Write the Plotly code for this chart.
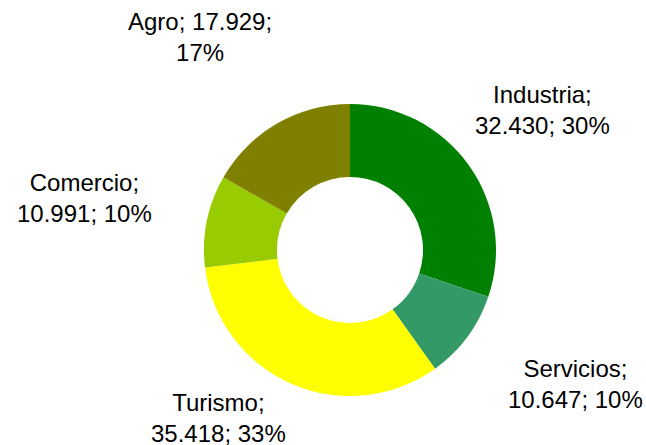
import plotly.graph_objects as go

categories = ["Industria", "Servicios", "Turismo", "Comercio", "Agro"]
values = [32430, 10647, 35418, 10991, 17929]
colors = ["#008000", "#339966", "#FFFF00", "#99CC00", "#808000"]

total = sum(values)

def fmt(v):
    return f"{v:,}".replace(",", ".")

def pct(v):
    return f"{round(v / total * 100)}%"

labels_text = {
    "Industria": f"Industria;<br>{fmt(values[0])}; {pct(values[0])}",
    "Servicios": f"Servicios;<br>{fmt(values[1])}; {pct(values[1])}",
    "Turismo": f"Turismo;<br>{fmt(values[2])}; {pct(values[2])}",
    "Comercio": f"Comercio;<br>{fmt(values[3])}; {pct(values[3])}",
    "Agro": f"Agro; {fmt(values[4])};<br>{pct(values[4])}",
}
# label centres in pixels (x, y from top)
label_pos = {
    "Industria": (542, 110),
    "Servicios": (575, 384),
    "Turismo": (219, 418),
    "Comercio": (84, 198),
    "Agro": (200, 37),
}

W, H = 646, 445
cx, cy, r = 350, 250, 146

fig = go.Figure(go.Pie(
    labels=categories,
    values=values,
    marker=dict(colors=colors, line=dict(width=0)),
    hole=0.5,
    sort=False,
    direction="clockwise",
    rotation=0,
    textinfo="none",
    hoverinfo="label+value+percent",
    showlegend=False,
    domain=dict(x=[(cx - r) / W, (cx + r) / W], y=[(H - cy - r) / H, (H - cy + r) / H]),
))

annotations = []
for c in categories:
    x, y = label_pos[c]
    annotations.append(dict(
        x=x / W, y=1 - y / H, xref="paper", yref="paper",
        text=labels_text[c], showarrow=False, align="center",
        xanchor="center", yanchor="middle",
        font=dict(family="Liberation Sans, Arial, sans-serif", size=24, color="black"),
    ))

fig.update_layout(
    width=W, height=H,
    margin=dict(l=0, r=0, t=0, b=0),
    paper_bgcolor="white", plot_bgcolor="white",
    annotations=annotations,
)

fig.write_html("out.html", config={"displayModeBar": False},
               post_script="document.body.style.margin='0';")
